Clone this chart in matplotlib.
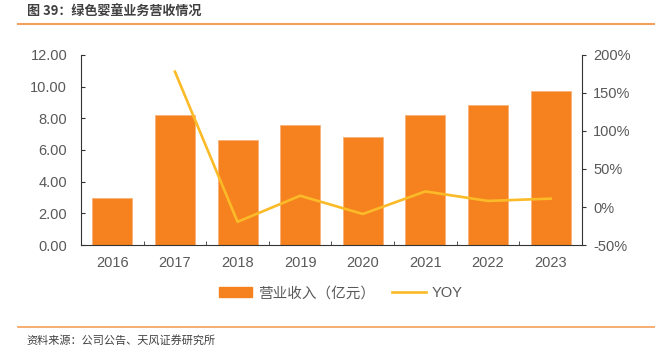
import matplotlib.pyplot as plt
from matplotlib.lines import Line2D
from matplotlib.patches import Patch

plt.rcParams['font.family'] = ['Liberation Sans', 'Noto Sans CJK SC']

years = ['2016', '2017', '2018', '2019', '2020', '2021', '2022', '2023']
revenue = [2.95, 8.21, 6.61, 7.60, 6.82, 8.21, 8.82, 9.73]
yoy = [None, 178.0, -19.5, 14.8, -9.2, 20.5, 8.0, 11.0]

bar_color = '#F5821F'
line_color = '#FBBA27'
text_color = '#595959'

fig = plt.figure(figsize=(6.55, 3.57), dpi=100)
ax = fig.add_axes([0.1237, 0.3137, 0.7648, 0.5323])
x = list(range(len(years)))
ax.bar(x, revenue, width=0.64, color=bar_color, edgecolor='#F9B27A', linewidth=0.6)
ax.set_xlim(-0.5, len(years) - 0.5)
ax.set_ylim(0, 12)
ax.set_yticks([0, 2, 4, 6, 8, 10, 12])
ax.set_yticklabels(['%.2f' % v for v in [0, 2, 4, 6, 8, 10, 12]])
ax.set_xticks(x)
ax.set_xticklabels(years)
ax.set_xticks([i + 0.5 for i in x[:-1]], minor=True)
ax.tick_params(axis='x', which='major', length=0, pad=8, labelsize=10.5, colors=text_color)
ax.tick_params(axis='x', which='minor', length=3, direction='in', color='#333333')
ax.tick_params(axis='y', direction='in', length=3, labelsize=10.5, colors=text_color, pad=10)
ax.tick_params(axis='y', color='#333333')
for s in ['top', 'right']:
    ax.spines[s].set_visible(False)
ax.spines['left'].set_color('#333333')
ax.spines['bottom'].set_color('#333333')

ax2 = ax.twinx()
yx = [i for i, v in zip(x, yoy) if v is not None]
yv = [v for v in yoy if v is not None]
ax2.plot(yx, yv, color=line_color, linewidth=1.9)
ax2.set_ylim(-50, 200)
ax2.set_yticks([-50, 0, 50, 100, 150, 200])
ax2.set_yticklabels(['%d%%' % v for v in [-50, 0, 50, 100, 150, 200]])
ax2.tick_params(axis='y', direction='out', length=3, labelsize=10.5, colors=text_color, color='#333333', pad=5)
for s in ['top', 'left', 'bottom']:
    ax2.spines[s].set_visible(False)
ax2.spines['right'].set_color('#333333')

handles = [Patch(color=bar_color), Line2D([0], [0], color=line_color, linewidth=1.9)]
fig.legend(handles, ['营业收入（亿元）', 'YOY'], loc='center', bbox_to_anchor=(0.52, 0.178),
           ncol=2, frameon=False, handlelength=2.3, handletextpad=0.4,
           columnspacing=1.2, labelcolor=text_color,
           prop={'family': ['Liberation Sans', 'Noto Sans CJK SC'], 'size': 10.5})

fig.text(0.041, 0.966, '图 39：绿色婴童业务营收情况', fontsize=9.4, fontweight='bold', color='#404040',
         va='center', family=['Noto Sans CJK SC'])
fig.add_artist(Line2D([0.028, 1.0], [0.932, 0.932], color='#F5A05A', linewidth=1.5))
fig.add_artist(Line2D([0.028, 1.0], [0.084, 0.084], color='#F5A05A', linewidth=1.2))
fig.text(0.041, 0.048, '资料来源：公司公告、天风证券研究所', fontsize=8, color='#404040',
         va='center', family=['Noto Sans CJK SC'])

fig.savefig('out.png', dpi=100)
